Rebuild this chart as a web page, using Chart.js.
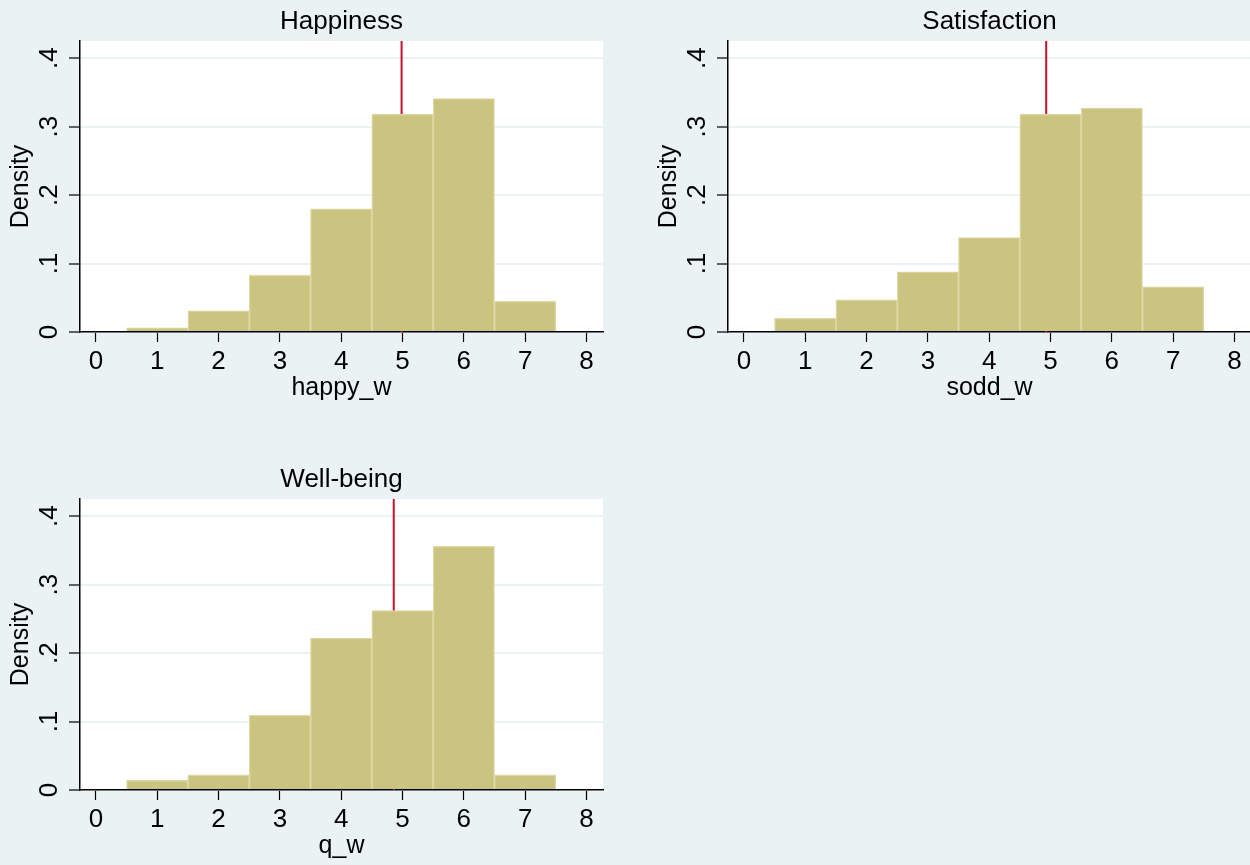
<!DOCTYPE html>
<html>
<head>
<meta charset="utf-8">
<title>Histograms</title>
<script src="https://cdn.jsdelivr.net/npm/chart.js@4.4.1/dist/chart.umd.min.js"></script>
<style>
  html, body { margin: 0; padding: 0; background: #EAF2F3; overflow: hidden; }
  body { width: 1250px; height: 865px; position: relative; }
  .panel { position: absolute; }
</style>
</head>
<body>
<div class="panel" style="left:0px; top:0px;"><canvas id="c0" width="610" height="412"></canvas></div>
<div class="panel" style="left:648px; top:0px;"><canvas id="c1" width="610" height="412"></canvas></div>
<div class="panel" style="left:0px; top:458px;"><canvas id="c2" width="610" height="412"></canvas></div>
<script>
// histogram bins (centres of the unit-wide bins)
const binCenters = [1, 2, 3, 4, 5, 6, 7];

// densities
const happyDensity = [0.006, 0.031, 0.083, 0.180, 0.318, 0.341, 0.045];
const soddDensity  = [0.020, 0.047, 0.088, 0.138, 0.318, 0.327, 0.066];
const qDensity     = [0.014, 0.022, 0.109, 0.222, 0.262, 0.356, 0.022];

// mean markers (red vertical lines)
const meanValues = [4.985, 4.93, 4.857];

const panelTitles = ['Happiness', 'Satisfaction', 'Well-being'];
const xTitles = ['happy_w', 'sodd_w', 'q_w'];

const xTicks = [0, 1, 2, 3, 4, 5, 6, 7, 8];
const xTickLabels = ['0', '1', '2', '3', '4', '5', '6', '7', '8'];
const yTicks = [0, 0.1, 0.2, 0.3, 0.4];
const yTickLabels = ['0', '.1', '.2', '.3', '.4'];

const xMin = -0.26, xMax = 8.27;
const yMin = 0, yMax = 0.425;

const FONT = "'Liberation Sans', Arial, Helvetica, sans-serif";
const barFill = '#CBC380';
const barEdge = '#DDD7A3';
const gridColor = '#EAF2F3';
const meanColor = '#C8102E';

// white plot region
const plotBg = {
  id: 'plotBg',
  beforeDraw(chart) {
    const a = chart.chartArea;
    const ctx = chart.ctx;
    ctx.save();
    ctx.fillStyle = '#ffffff';
    ctx.fillRect(a.left, a.top, a.right - a.left, a.bottom - a.top);
    ctx.restore();
  }
};

function makeChart(id, density, mean, title, xTitle) {
  new Chart(document.getElementById(id), {
    type: 'bar',
    data: {
      datasets: [
        {
          type: 'bar',
          data: binCenters.map((c, i) => ({ x: c, y: density[i] })),
          backgroundColor: barFill,
          borderColor: barEdge,
          borderWidth: 1.3,
          borderSkipped: 'start',
          categoryPercentage: 1.0,
          barPercentage: 1.0,
          grouped: false,
          order: 1
        },
        {
          type: 'line',
          data: [{ x: mean, y: yMin }, { x: mean, y: yMax }],
          borderColor: meanColor,
          borderWidth: 2,
          pointRadius: 0,
          order: 2 // drawn behind the bars
        }
      ]
    },
    options: {
      responsive: false,
      animation: false,
      devicePixelRatio: 1,
      layout: { padding: { left: 0, right: 7, top: 0, bottom: 0 } },
      plugins: {
        legend: { display: false },
        tooltip: { enabled: false },
        title: {
          display: true,
          text: title,
          fullSize: false,
          color: '#000',
          font: { family: FONT, size: 26, weight: 'normal', lineHeight: 1.2 },
          padding: { top: 6, bottom: 3.8 }
        }
      },
      scales: {
        x: {
          type: 'linear',
          min: xMin,
          max: xMax,
          offset: false,
          afterFit: s => { s.height = 80; },
          afterBuildTicks: s => { s.ticks = xTicks.map(v => ({ value: v })); },
          ticks: {
            autoSkip: false,
            maxRotation: 0,
            padding: 4,
            color: '#000',
            font: { family: FONT, size: 26 },
            callback: (v, i) => xTickLabels[i]
          },
          grid: { offset: false, drawOnChartArea: false, tickColor: '#000', tickLength: 10, tickWidth: 1.2 },
          border: { color: '#000', width: 1.5 },
          title: {
            display: true,
            text: xTitle,
            color: '#000',
            font: { family: FONT, size: 25 },
            padding: { top: 0, bottom: 9 }
          }
        },
        y: {
          type: 'linear',
          min: yMin,
          max: yMax,
          afterFit: s => { s.width = 80; },
          afterBuildTicks: s => { s.ticks = yTicks.map(v => ({ value: v })); },
          ticks: {
            minRotation: 90,
            maxRotation: 90,
            crossAlign: 'center',
            padding: 8,
            color: '#000',
            font: { family: FONT, size: 26 },
            callback: (v, i) => yTickLabels[i]
          },
          grid: { color: gridColor, lineWidth: 2, tickColor: '#000', tickLength: 11, tickWidth: 1.2 },
          border: { color: '#000', width: 1.5 },
          title: {
            display: true,
            text: 'Density',
            color: '#000',
            font: { family: FONT, size: 25 },
            padding: { top: 6, bottom: 0 }
          }
        }
      }
    },
    plugins: [plotBg]
  });
}

makeChart('c0', happyDensity, meanValues[0], panelTitles[0], xTitles[0]);
makeChart('c1', soddDensity, meanValues[1], panelTitles[1], xTitles[1]);
makeChart('c2', qDensity, meanValues[2], panelTitles[2], xTitles[2]);
</script>
</body>
</html>
